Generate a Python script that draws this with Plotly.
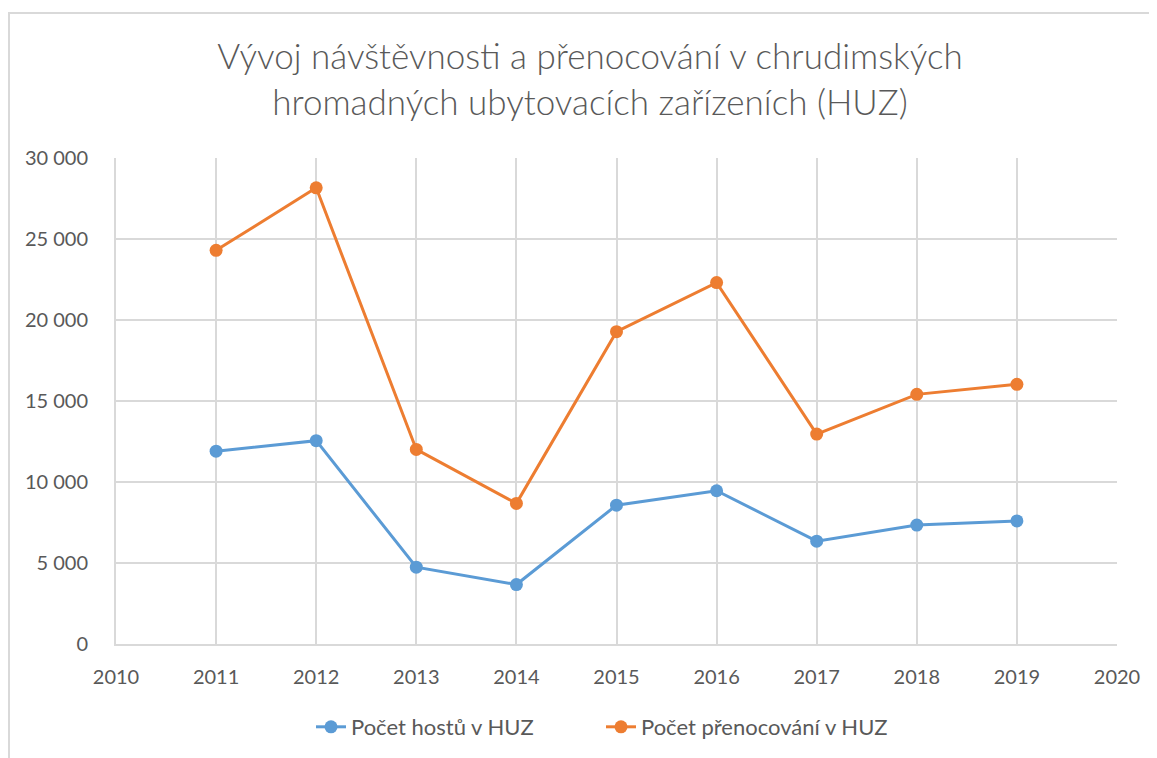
import plotly.graph_objects as go

years = [2011, 2012, 2013, 2014, 2015, 2016, 2017, 2018, 2019]
hoste = [11900, 12550, 4740, 3670, 8570, 9460, 6350, 7340, 7600]
prenocovani = [24300, 28160, 12010, 8680, 19280, 22310, 12960, 15410, 16030]

series_names = ["Počet hostů v HUZ", "Počet přenocování v HUZ"]
title_text = "Vývoj návštěvnosti a přenocování v chrudimských<br>hromadných ubytovacích zařízeních (HUZ)"

x_ticks = [2010, 2011, 2012, 2013, 2014, 2015, 2016, 2017, 2018, 2019, 2020]
y_ticks = [0, 5000, 10000, 15000, 20000, 25000, 30000]
y_ticklabels = ["0", "5 000", "10 000", "15 000", "20 000", "25 000", "30 000"]

FONT = "Lato"
TXT = "#595959"
GRID = "#d9d9d9"

fig = go.Figure()
fig.add_trace(go.Scatter(x=years, y=hoste, name=series_names[0], mode="lines+markers",
                         line=dict(color="#5B9BD5", width=3),
                         marker=dict(size=13, color="#5B9BD5")))
fig.add_trace(go.Scatter(x=years, y=prenocovani, name=series_names[1], mode="lines+markers",
                         line=dict(color="#ED7D31", width=3),
                         marker=dict(size=13, color="#ED7D31")))

# page has an 8px body margin; figure coordinates are page coordinates minus 8
OFF = 8
L, R, T, B = 116 - OFF, 1117 - OFF, 158 - OFF, 644 - OFF
W, H = 1157 - OFF, 758 - OFF
pw, ph = R - L, B - T

fig.update_layout(
    width=W, height=H,
    margin=dict(l=L, r=W - R, t=T, b=H - B, autoexpand=False),
    paper_bgcolor="white", plot_bgcolor="white",
    font=dict(family=FONT, color=TXT, size=20),
    title=dict(text=title_text, x=(590 - OFF) / W, xanchor="center", xref="container",
               y=1 - (69 - OFF) / H, yanchor="middle", yref="container",
               font=dict(family=FONT, size=35, color=TXT, weight=300)),
    showlegend=True,
    legend=dict(orientation="h", xref="container", yref="container",
                x=(601 - OFF) / W, xanchor="center", y=1 - (727 - OFF) / H, yanchor="middle",
                entrywidth=245,
                font=dict(family=FONT, size=22, color=TXT)),
    xaxis=dict(range=[2010, 2020], tickvals=x_ticks, ticktext=[str(v) for v in x_ticks],
               showgrid=True, gridcolor=GRID, gridwidth=2,
               showline=True, linecolor=GRID, linewidth=2, mirror=False,
               zeroline=False, ticks="", ticklabelstandoff=14,
               tickfont=dict(family=FONT, size=20, color=TXT)),
    yaxis=dict(range=[0, 30000], tickvals=y_ticks, ticktext=y_ticklabels,
               showgrid=True, gridcolor=GRID, gridwidth=2,
               showline=True, linecolor=GRID, linewidth=2,
               zeroline=False, ticks="", ticklabelstandoff=22,
               tickfont=dict(family=FONT, size=20, color=TXT)),
    shapes=[dict(type="rect", xref="paper", yref="paper",
                 x0=(9 - OFF - L) / pw, x1=(1175 - L) / pw,
                 y0=(B - 780) / ph, y1=(B - (13 - OFF)) / ph,
                 line=dict(color=GRID, width=2), fillcolor="rgba(0,0,0,0)", layer="below")],
)

fig.write_html("out.html")
